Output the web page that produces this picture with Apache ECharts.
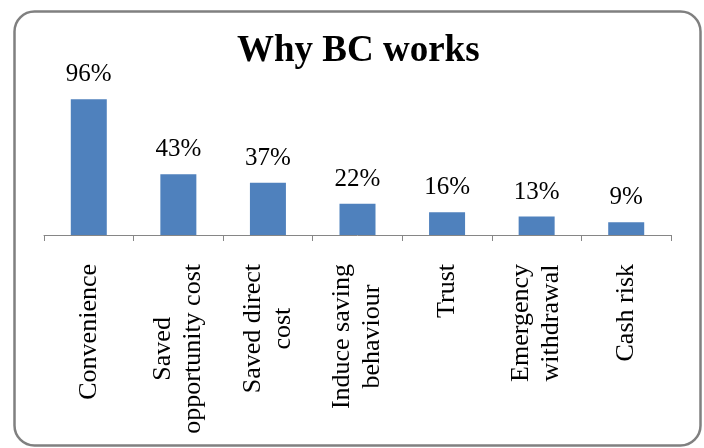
<!DOCTYPE html>
<html>
<head>
<meta charset="utf-8">
<script src="https://cdn.jsdelivr.net/npm/echarts@6/dist/echarts.min.js"></script>
<style>
html,body{margin:0;padding:0;background:#fff;}
#chart{width:704px;height:448px;}
</style>
</head>
<body>
<div id="chart"></div>
<script>
const titleText = 'Why BC works';
const categories = ['Convenience', 'Saved\nopportunity cost', 'Saved direct\ncost', 'Induce saving\nbehaviour', 'Trust', 'Emergency\nwithdrawal', 'Cash risk'];
const values = [96, 43, 37, 22, 16, 13, 9];

const FONT = '"Liberation Serif", "Times New Roman", serif';
const chart = echarts.init(document.getElementById('chart'), null, {renderer: 'canvas'});
chart.setOption({
  backgroundColor: '#ffffff',
  animation: false,
  title: {
    text: titleText,
    left: 237,
    top: 33,
    padding: 0,
    textStyle: {fontFamily: FONT, fontWeight: 'bold', fontSize: 37, color: '#000'}
  },
  graphic: [{
    type: 'rect',
    silent: true,
    z: 100,
    shape: {x: 14.5, y: 11.5, width: 686, height: 434, r: 20},
    style: {fill: 'none', stroke: '#808080', lineWidth: 2.5}
  }],
  grid: {left: 44, right: 33, top: 93.5, bottom: 213, containLabel: false},
  xAxis: {
    type: 'category',
    data: categories,
    axisLine: {lineStyle: {color: '#868686', width: 1}},
    axisTick: {show: true, length: 6, lineStyle: {color: '#868686', width: 1}},
    axisLabel: {
      interval: 0,
      rotate: 90,
      margin: 29,
      color: '#000',
      fontFamily: FONT,
      fontSize: 26,
      lineHeight: 30,
      formatter: function (v) {
        return v.split('\n').map(function (l) { return '{c|' + l + '}'; }).join('\n');
      },
      rich: {c: {align: 'center', fontFamily: FONT, fontSize: 26, lineHeight: 30, color: '#000'}}
    }
  },
  yAxis: {type: 'value', min: 0, max: 100, show: false, splitLine: {show: false}},
  series: [{
    type: 'bar',
    data: values,
    barWidth: 36,
    itemStyle: {color: '#4F81BD'},
    label: {
      show: true,
      position: 'top',
      distance: 12,
      formatter: '{c}%',
      fontFamily: FONT,
      fontSize: 25,
      color: '#000'
    }
  }]
});
</script>
</body>
</html>
